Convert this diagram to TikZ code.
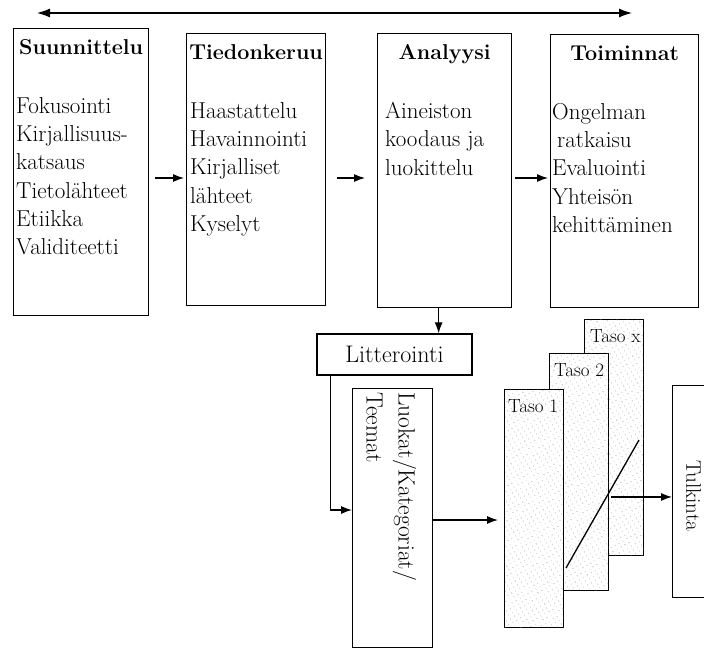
\documentclass[tikz,border=0pt]{standalone}
\usetikzlibrary{arrows.meta,positioning,patterns.meta}

\begin{document}
\begin{tikzpicture}[x=1pt, y=-1pt,
  vaihe/.style={rectangle, draw=black, line width=1.3pt, anchor=north west, inner sep=0pt},
  otsikko/.style={font=\bfseries\fontsize{21.5}{24}\selectfont, anchor=base, inner sep=0pt},
  sisalto/.style={font=\fontsize{23}{28.3}\selectfont, align=left, anchor=north west, inner sep=0pt},
  taso/.style={vaihe, fill=white, postaction={pattern={Dots[distance=4pt, angle=30, radius=0.5pt]}, pattern color=black!45}},
  tasonimi/.style={font=\fontsize{19}{22}\selectfont, anchor=base west, inner sep=0pt},
  nuoli/.style={line width=1.2pt, -{Latex[length=11pt,width=8pt]}}]
					\useasboundingbox (0,0) rectangle (704,648);
					\clip (0,0) rectangle (704,648);

					\coordinate (pl) at (37,13);
					\coordinate (pr) at (632,13);
					\draw[line width=1.2pt, {Latex[length=13pt,width=9pt]}-{Latex[length=13pt,width=9pt]}] (pl) -- (pr);

					\node[vaihe, minimum width=135pt, minimum height=287pt] (s1) at (13,28) {};
					\node[otsikko] (s1o) at ([yshift=-26.5pt]s1.north) {Suunnittelu};
					\node[sisalto] (s1t) at ([xshift=3pt, yshift=-69pt]s1.north west) {Fokusointi\\Kirjallisuus-\\katsaus\\Tietolähteet\\Etiikka\\Validiteetti};

					\node[vaihe, minimum width=139pt, minimum height=272pt] (s2) at (186,33) {};
					\node[otsikko] (s2o) at ([yshift=-26.5pt]s2.north) {Tiedonkeruu};
					\node[sisalto] (s2t) at ([xshift=4pt, yshift=-69pt]s2.north west) {Haastattelu\\Havainnointi\\Kirjalliset\\lähteet\\Kyselyt};

					\node[vaihe, minimum width=134pt, minimum height=274pt] (s3) at (377,33) {};
					\node[otsikko] (s3o) at ([yshift=-26.5pt]s3.north) {Analyysi};
					\node[sisalto] (s3t) at ([xshift=8pt, yshift=-69pt]s3.north west) {Aineiston\\koodaus ja\\luokittelu};

					\node[vaihe, minimum width=148pt, minimum height=273pt] (s4) at (550,34) {};
					\node[otsikko] (s4o) at ([yshift=-26.5pt]s4.north) {Toiminnat};
					\node[sisalto] (s4t) at ([xshift=2pt, yshift=-69pt]s4.north west) {Ongelman\\\hspace{5pt}ratkaisu\\Evaluointi\\Yhteisön\\kehittäminen};

					\coordinate (k) at (0,178);
					\draw[nuoli, shorten <=6pt, shorten >=2pt] (s1.east |- k) -- (s2.west |- k);
					\draw[nuoli, shorten <=11pt, shorten >=12pt] (s2.east |- k) -- (s3.west |- k);
					\draw[nuoli, shorten <=3pt, shorten >=2pt] (s3.east |- k) -- (s4.west |- k);

					\node[draw, line width=1.3pt, minimum width=155pt, minimum height=41pt, inner sep=0pt, font=\fontsize{24}{26}\selectfont] (lit) at (394.5,354.5) {Litterointi};
					\draw[nuoli] ([xshift=-6pt]s3.south) -- ([xshift=-6pt]s3.south |- lit.north);

					\node[vaihe, minimum width=80pt, minimum height=259pt] (luok) at (352,388) {};
					\node[rotate=-90, anchor=north west, align=left, inner sep=0pt, font=\fontsize{23.5}{32}\selectfont] (luokt) at ([xshift=-17pt, yshift=-4pt]luok.north east) {Luokat/Kategoriat/\\Teemat};
					\coordinate (lk) at (0,510);
					\draw[nuoli] ([xshift=14pt]lit.south west) |- (luok.west |- lk);

					\node[taso, minimum width=59pt, minimum height=236pt] (tasox) at (584,319) {};
					\node[tasonimi] (tasoxn) at ([xshift=6pt, yshift=-23pt]tasox.north west) {Taso x};
					\node[taso, minimum width=59pt, minimum height=237pt] (taso2) at (549,353) {};
					\node[tasonimi] (taso2n) at ([xshift=5pt, yshift=-23pt]taso2.north west) {Taso 2};
					\coordinate (d1) at (566,568);
					\coordinate (d2) at (639,440);
					\draw[line width=1.3pt] (d1) -- coordinate[pos=0.555] (dx) (d2);
					\node[taso, minimum width=59pt, minimum height=238pt] (taso1) at (504,389) {};
					\node[tasonimi] (taso1n) at ([xshift=4pt, yshift=-23pt]taso1.north west) {Taso 1};

					\coordinate (lt) at (0,520);
					\draw[nuoli, shorten >=6pt] (luok.east |- lt) -- (taso1.west |- lt);

					\node[vaihe, minimum width=60pt, minimum height=212pt] (tulk) at (672,385) {};
					\node[rotate=-90, inner sep=0pt, font=\fontsize{21}{24}\selectfont] (tulkt) at ([xshift=-9pt, yshift=-4pt]tulk.center) {Tulkinta};
					\draw[nuoli, shorten <=4pt] (dx) -- (tulk.west |- dx);
				\end{tikzpicture}
\end{document}
